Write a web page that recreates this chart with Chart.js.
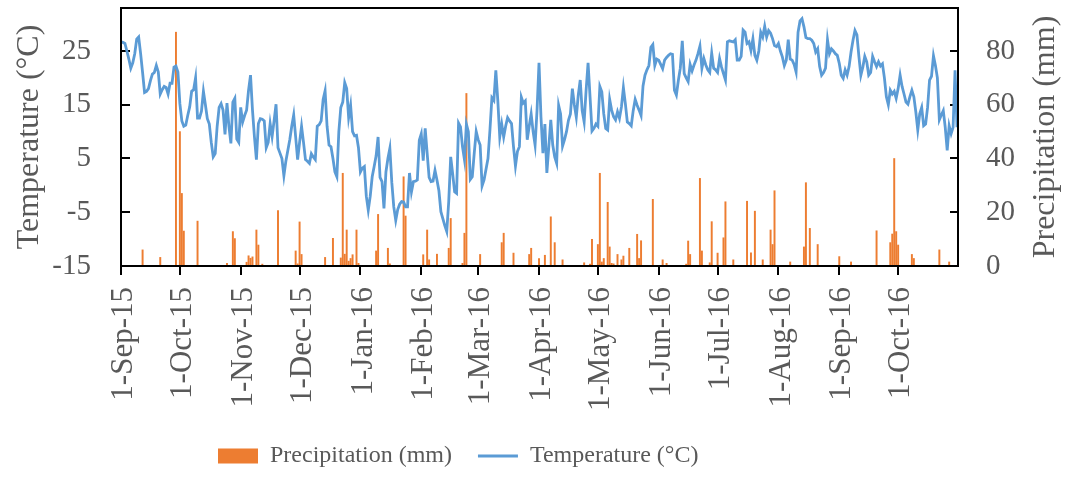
<!DOCTYPE html>
<html>
<head>
<meta charset="utf-8">
<script src="https://cdn.jsdelivr.net/npm/chart.js@4"></script>
<style>
html,body{margin:0;padding:0;background:#fff;}
#wrap{width:1072px;height:479px;position:relative;}
</style>
</head>
<body>
<div id="wrap"><canvas id="c"></canvas></div>
<script>
// Daily series, day 0 = 1 Sep 2015
const tickDays = [0,30,61,91,122,153,182,213,243,274,304,335,366,396];
const tickLabels = ['1-Sep-15','1-Oct-15','1-Nov-15','1-Dec-15','1-Jan-16','1-Feb-16','1-Mar-16','1-Apr-16','1-May-16','1-Jun-16','1-Jul-16','1-Aug-16','1-Sep-16','1-Oct-16'];
const tempTicks = [-15,-5,5,15,25];
const precipTicks = [0,20,40,60,80];
const tempTitle = 'Temperature (\u00B0C)';
const precipTitle = 'Precipitation (mm)';

// Daily mean temperature (°C)
const temperature = [
26.7,26.6,26.4,25.0,23.5,21.8,22.8,24.5,27.2,27.6,
24.5,21.0,17.3,17.5,18.0,19.5,20.7,21.0,22.3,21.1,
17.0,17.8,18.4,18.2,17.0,19.0,19.0,22.0,22.2,21.1,
15.2,12.0,11.0,11.2,13.0,14.6,17.5,17.8,20.0,12.5,
12.5,13.8,17.5,15.0,12.4,11.4,8.0,5.3,5.9,11.0,
14.5,15.2,14.0,9.5,15.3,11.0,7.8,15.5,16.2,8.6,
8.0,14.5,11.8,13.0,14.0,17.7,20.5,14.0,9.0,4.8,
11.5,12.4,12.3,12.0,7.0,8.0,11.5,9.1,12.0,15.1,
7.0,6.0,5.0,1.8,4.5,6.5,8.5,11.0,13.1,9.0,
4.8,8.0,11.0,8.0,4.8,4.5,4.1,5.9,5.3,4.8,
11.0,11.3,12.0,16.0,17.6,11.0,7.5,7.2,5.0,2.5,
1.6,10.0,14.5,15.5,19.1,18.0,12.6,14.9,10.0,9.2,
9.3,7.0,2.5,3.2,3.5,-2.0,-4.6,-2.0,1.6,3.5,
5.5,9.0,1.5,0.7,-4.3,2.5,5.0,6.9,0.5,-4.0,
-6.5,-4.5,-3.5,-3.0,-3.1,-4.0,-4.0,2.3,-1.2,0.7,
0.8,1.0,8.4,9.6,4.6,10.6,6.0,1.5,0.7,0.8,
2.8,1.0,-1.0,-4.9,-6.2,-7.5,-8.6,-3.0,5.3,2.2,
-1.2,-1.5,11.6,10.9,7.2,4.8,11.4,10.0,1.1,1.6,
6.0,10.0,8.5,7.5,-0.1,1.0,3.0,5.0,10.3,16.3,
15.8,21.4,15.8,9.0,11.4,9.0,11.0,12.6,12.0,11.5,
7.2,3.6,6.3,7.2,16.4,15.3,15.7,8.5,11.0,13.3,
10.0,7.5,14.0,22.8,12.7,6.0,11.4,2.3,7.2,12.2,
7.5,5.3,4.1,14.9,13.3,7.3,8.5,10.0,12.1,13.3,
18.0,15.0,12.7,16.8,19.6,13.9,11.8,17.7,22.8,16.5,
10.1,10.6,11.4,11.0,18.4,17.4,13.3,10.6,10.3,16.0,
14.0,12.8,12.2,13.7,12.5,14.6,18.2,15.2,11.8,11.5,
11.1,13.9,16.0,14.9,14.0,13.0,18.5,20.5,21.5,22.3,
25.7,26.2,22.3,23.5,23.3,22.5,21.7,23.3,23.8,24.2,
24.5,24.4,17.7,16.8,19.5,21.8,26.9,20.8,20.0,19.3,
22.5,21.3,22.4,23.3,24.5,25.9,21.8,23.6,22.4,21.5,
21.0,24.6,21.8,21.5,21.0,23.6,22.0,20.8,19.6,26.7,
26.9,26.8,26.7,27.1,23.3,23.3,24.0,28.9,28.5,26.4,
26.7,25.1,27.3,24.2,23.3,25.0,28.5,27.6,29.6,27.6,
28.8,28.3,27.3,26.0,25.8,26.4,25.0,23.9,22.3,23.3,
27.1,23.5,23.3,22.5,21.1,28.5,30.6,31.0,29.5,27.5,
27.3,27.3,27.0,26.4,24.8,25.4,22.1,20.5,21.0,21.8,
27.1,24.5,25.4,25.0,24.5,24.2,22.7,20.5,19.9,21.5,
20.5,22.1,24.8,27.0,28.8,28.0,24.0,20.5,22.0,24.0,
23.0,20.5,21.0,24.0,23.0,22.1,23.0,22.2,22.6,20.0,
16.5,15.0,17.7,17.0,17.5,16.2,18.0,20.5,18.4,17.0,
15.5,15.1,16.5,17.7,16.5,13.7,10.3,13.3,14.5,11.1,
11.4,14.5,19.6,20.3,24.1,22.3,20.0,12.2,13.1,13.9,
10.8,6.5,11.1,9.6,10.8,21.4,10.8
];

// Rain days (day index) and daily totals (mm)
const rainDays = [11,20,28,30,31,32,39,54,57,58,64,65,66,67,69,70,72,80,89,90,91,92,104,108,112,113,114,115,116,117,118,120,121,130,131,136,137,144,145,154,156,157,161,167,168,174,175,176,183,194,195,200,208,209,213,216,219,221,225,236,239,240,243,244,245,246,248,249,250,251,253,255,256,259,263,264,265,271,276,278,288,289,290,295,296,300,301,304,307,308,312,319,321,323,327,331,332,333,341,348,349,351,355,366,372,385,392,393,394,395,396,403,404,417,422];
const rainMm = [6,3.2,87,50,27,13,16.7,1,12.8,10.2,1.4,3.8,2.9,3.4,13.4,7.8,0.7,20.6,5.6,0.8,16.4,4.3,3.2,10.3,3,34.5,4.4,13.4,1.8,2.8,4.2,13.4,1,5.6,19.2,6.6,0.8,33.2,18.6,4.2,13.4,2.3,4.4,6.6,17.7,1,12.2,64.2,4.3,8.7,12.2,4.8,4.3,6.6,2.8,4,18.3,8.7,2.3,1.2,0.7,9.9,8,34.5,1.5,2.8,23.7,7.1,1,0.8,4.3,2.3,3.7,6.6,11.8,2.8,9.4,24.8,2.3,1,0.7,9.3,4.3,32.6,5.6,1.2,16.5,4.8,10.5,23.9,2.3,24.1,4.9,20.4,2.3,13.4,8,28,1.5,7.1,31,14,8,3.5,1.5,13.1,8.7,11.9,40,12.8,7.8,4.3,2.8,6,1.5];

const FONT = "'Liberation Serif', 'Times New Roman', serif";
const TEXT = '#595959';

const frame = {
  id: 'frame',
  afterDraw(chart) {
    const a = chart.chartArea, ctx = chart.ctx;
    ctx.save();
    ctx.strokeStyle = '#000';
    ctx.lineWidth = 2;
    ctx.strokeRect(a.left, a.top, a.right - a.left, a.bottom - a.top);
    ctx.restore();
  }
};

const rightTitle = {
  id: 'rightTitle',
  afterDraw(chart) {
    const s = chart.scales.y1, a = chart.chartArea, ctx = chart.ctx;
    ctx.save();
    ctx.translate(s.right - 26, (a.top + a.bottom) / 2);
    ctx.rotate(-Math.PI / 2);
    ctx.font = '32px ' + FONT;
    ctx.fillStyle = TEXT;
    ctx.textAlign = 'center';
    ctx.textBaseline = 'middle';
    ctx.fillText(precipTitle, 0, 0);
    ctx.restore();
  }
};

const legendPlace = {
  id: 'legendPlace',
  afterLayout(chart) {
    const lg = chart.legend;
    if (lg) lg.left = 218 - lg.options.labels.padding;
  }
};

const noVPad = s => { s.paddingTop = 0; s.paddingBottom = 0; };

new Chart(document.getElementById('c'), {
  type: 'bar',
  data: {
    datasets: [
      {
        type: 'bar',
        label: precipTitle,
        data: rainDays.map((d, i) => ({x: d, y: rainMm[i]})),
        backgroundColor: '#ED7D31',
        borderWidth: 0,
        barThickness: 1.3,
        xAxisID: 'x',
        yAxisID: 'y1',
        order: 1
      },
      {
        type: 'line',
        label: tempTitle,
        data: temperature.map((t, i) => ({x: i, y: t})),
        borderColor: '#5B9BD5',
        backgroundColor: '#5B9BD5',
        borderWidth: 2.8,
        pointRadius: 0,
        tension: 0,
        xAxisID: 'x',
        yAxisID: 'y',
        order: 0
      }
    ]
  },
  options: {
    responsive: true,
    maintainAspectRatio: false,
    animation: false,
    layout: {padding: {top: 8, bottom: 1, left: 0, right: 0}},
    plugins: {
      tooltip: {enabled: false},
      legend: {
        position: 'bottom',
        align: 'start',
        labels: {
          color: TEXT,
          font: {family: FONT, size: 24},
          usePointStyle: true,
          pointStyleWidth: 40,
          boxHeight: 15,
          padding: 26,
          sort: (a, b) => a.datasetIndex - b.datasetIndex,
          generateLabels(chart) {
            const items = Chart.defaults.plugins.legend.labels.generateLabels(chart);
            items.forEach(it => {
              it.pointStyle = it.datasetIndex === 0 ? 'rect' : 'line';
            });
            return items;
          }
        }
      }
    },
    scales: {
      x: {
        type: 'linear',
        min: 0,
        max: 426.5,
        offset: false,
        afterBuildTicks: s => { s.ticks = tickDays.map(v => ({value: v})); },
        afterFit: s => { s.height = 152; },
        grid: {offset: false, drawOnChartArea: false, drawTicks: true, tickLength: 9, color: '#000', lineWidth: 2},
        border: {display: true, color: '#000', width: 2},
        ticks: {
          autoSkip: false,
          minRotation: 90,
          maxRotation: 90,
          padding: 12,
          labelOffset: 3,
          color: TEXT,
          font: {family: FONT, size: 31},
          callback: (v, i) => tickLabels[i]
        }
      },
      y: {
        position: 'left',
        min: -15,
        max: 33,
        afterBuildTicks: s => { s.ticks = tempTicks.map(v => ({value: v})); },
        afterFit: s => { s.width = 121; noVPad(s); },
        grid: {drawOnChartArea: false, drawTicks: true, tickLength: -9, color: '#000', lineWidth: 2},
        border: {display: true, color: '#000', width: 2},
        ticks: {padding: 39, color: TEXT, font: {family: FONT, size: 29}},
        title: {display: true, text: tempTitle, color: TEXT, font: {family: FONT, size: 32}, padding: {top: 10, bottom: 0}}
      },
      y1: {
        position: 'right',
        min: 0,
        max: 96,
        afterBuildTicks: s => { s.ticks = precipTicks.map(v => ({value: v})); },
        afterFit: s => { s.width = 114; noVPad(s); },
        grid: {drawOnChartArea: false, drawTicks: true, tickLength: -8, color: '#000', lineWidth: 2},
        border: {display: true, color: '#000', width: 2},
        ticks: {padding: 36, color: TEXT, font: {family: FONT, size: 29}}
      }
    }
  },
  plugins: [frame, rightTitle, legendPlace]
});
</script>
</body>
</html>
